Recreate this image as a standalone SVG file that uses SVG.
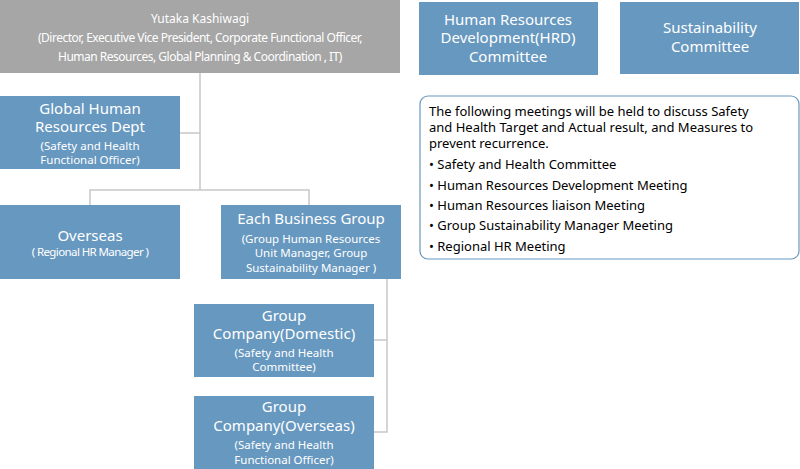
<svg xmlns="http://www.w3.org/2000/svg" width="800" height="469" viewBox="0 0 800 469">
<style>
.b{fill:#6798bf}
.t{font-family:"Noto Sans","Open Sans",sans-serif;fill:#fff;text-anchor:middle}
.h{font-size:15px}
.s{font-size:11.5px}
.c{stroke:#c8c8c8;stroke-width:1.5;fill:none}
.k{font-family:"Noto Sans","Open Sans",sans-serif;fill:#000;font-size:13px}
</style>
<rect width="800" height="469" fill="#fff"/>
<g id="connectors">
<path class="c" d="M200 73V190M180 133H200M90 205V190H309V205M374 340H387M387 279V432H374"/>
</g>
<g id="top"><rect x="0" y="0" width="400" height="73" fill="#a6a6a6"/>
<text class="t" x="200" y="23" font-size="12">Yutaka Kashiwagi</text>
<text class="t" x="200" y="42" font-size="12" letter-spacing="-0.5">(Director, Executive Vice President, Corporate Functional Officer,</text>
<text class="t" x="200" y="61" font-size="12" letter-spacing="-0.5">Human Resources, Global Planning &amp; Coordination , IT)</text></g>
<g id="ghr"><rect class="b" x="0" y="96" width="180" height="73"/>
<text class="t h" x="90" y="114">Global Human</text><text class="t h" x="90" y="132">Resources Dept</text>
<text class="t s" x="90" y="150">(Safety and Health</text><text class="t s" x="90" y="164">Functional Officer)</text></g>
<g id="overseas"><rect class="b" x="0" y="205" width="180" height="74"/>
<text class="t h" x="90" y="241">Overseas</text><text class="t" x="90" y="256" font-size="11.5" letter-spacing="-0.6">( Regional HR Manager )</text></g>
<g id="ebg"><rect class="b" x="221" y="205" width="180" height="74"/>
<text class="t h" x="311" y="224">Each Business Group</text>
<text class="t s" x="311" y="243">(Group Human Resources</text><text class="t s" x="311" y="257">Unit Manager, Group</text><text class="t s" x="311" y="272">Sustainability Manager )</text></g>
<g id="gcd"><rect class="b" x="194" y="304" width="180" height="73"/>
<text class="t h" x="284" y="321">Group</text><text class="t h" x="284" y="339">Company(Domestic)</text>
<text class="t s" x="284" y="357">(Safety and Health</text><text class="t s" x="284" y="371">Committee)</text></g>
<g id="gco"><rect class="b" x="194" y="396" width="180" height="73"/>
<text class="t h" x="284" y="412">Group</text><text class="t h" x="284" y="431">Company(Overseas)</text>
<text class="t s" x="284" y="449">(Safety and Health</text><text class="t s" x="284" y="464">Functional Officer)</text></g>
<g id="hrd"><rect class="b" x="419" y="2" width="179" height="73"/>
<text class="t h" x="508" y="25">Human Resources</text><text class="t h" x="508" y="43">Development(HRD)</text><text class="t h" x="508" y="62">Committee</text></g>
<g id="sus"><rect class="b" x="620" y="2" width="179" height="72"/>
<text class="t h" x="710" y="33">Sustainability</text><text class="t h" x="710" y="52">Committee</text></g>
<g id="info"><rect x="420" y="96" width="379" height="163" rx="8" fill="#fff" stroke="#6798bf" stroke-width="1.2"/>
<text class="k" x="429" y="116">The following meetings will be held to discuss Safety</text>
<text class="k" x="429" y="132">and Health Target and Actual result, and  Measures to</text>
<text class="k" x="429" y="148">prevent recurrence.</text>
<text class="k" x="429" y="169">•  Safety and Health Committee</text>
<text class="k" x="429" y="190">•  Human Resources Development Meeting</text>
<text class="k" x="429" y="210">•  Human Resources liaison Meeting</text>
<text class="k" x="429" y="230">•  Group Sustainability Manager Meeting</text>
<text class="k" x="429" y="251">•  Regional HR Meeting</text></g>
</svg>
